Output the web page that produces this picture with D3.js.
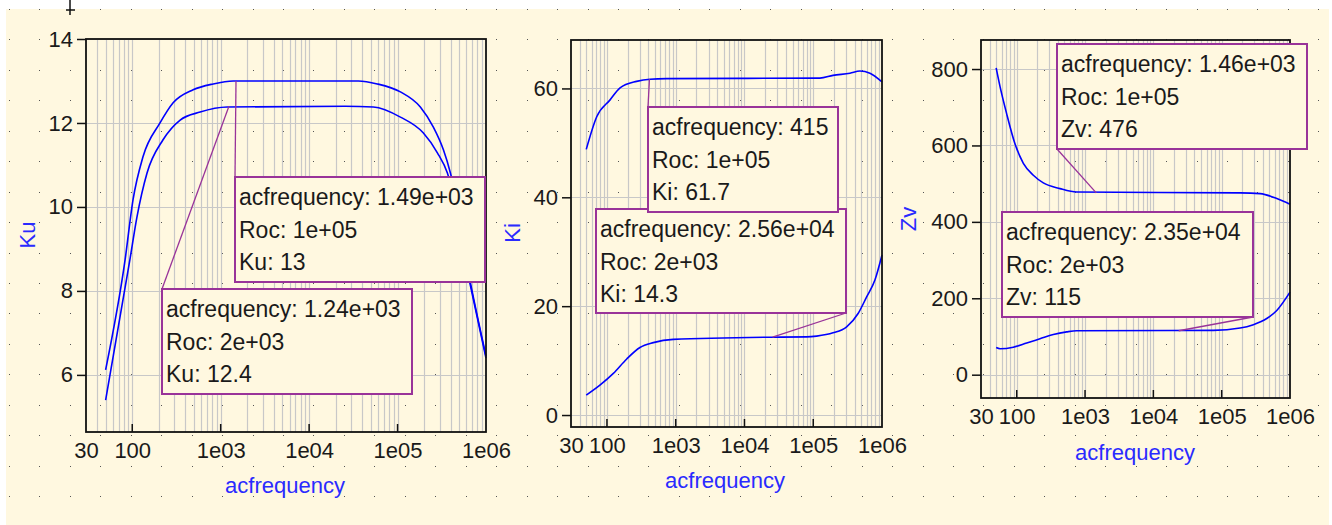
<!DOCTYPE html>
<html>
<head>
<meta charset="utf-8">
<script src="https://cdn.jsdelivr.net/npm/d3@7"></script>
<style>
    body { margin: 0; background: #fff; }
    svg { display: block; font-family: "Liberation Sans", Arial, sans-serif; }
</style>
</head>
<body>
<div id="visual-container"></div>
<script>
// Shared x axis (log frequency)
const freqTicks = [30, 100, 1e3, 1e4, 1e5, 1e6];
const freqTickLabels = ["30", "100", "1e03", "1e04", "1e05", "1e06"];

// Ku panel
const kuTicks = [6, 8, 10, 12, 14];
const kuFreqHi = [50, 83, 102, 132, 206, 290, 488, 822, 1384, 36000, 59000, 107700, 181000, 254000, 330000, 396000, 667000, 1e6];
const kuHi = [6.12, 8.74, 10.17, 11.19, 12.0, 12.48, 12.79, 12.93, 13.0, 13.0, 12.93, 12.74, 12.38, 11.9, 11.36, 10.81, 8.19, 6.45];
const kuFreqLo = [50, 94, 113, 147, 223, 348, 586, 1183, 25600, 53200, 107700, 196000, 282000, 366000, 667000, 1e6];
const kuLo = [5.40, 8.74, 9.76, 10.81, 11.6, 12.07, 12.26, 12.38, 12.4, 12.38, 12.14, 11.76, 11.29, 10.81, 8.12, 6.4];

// Ki panel
const kiTicks = [0, 20, 40, 60];
const kiFreqHi = [50, 71, 111, 155, 270, 423, 738, 125000, 194000, 342000, 478000, 668000, 1e6];
const kiHi = [48.8, 54.8, 57.9, 60.1, 61.3, 61.7, 61.8, 61.9, 62.4, 62.8, 63.2, 62.8, 61.2];
const kiFreqLo = [50, 79, 124, 194, 302, 472, 922, 25600, 80000, 112000, 194000, 306000, 452000, 598000, 789000, 1e6];
const kiLo = [3.67, 5.5, 7.65, 10.3, 12.4, 13.3, 13.9, 14.3, 14.35, 14.5, 15.1, 16.2, 18.7, 21.7, 24.8, 29.4];

// Zv panel
const zvTicks = [0, 200, 400, 600, 800];
const zvFreqHi = [50, 57, 71, 94, 125, 175, 245, 430, 755, 186000, 365000, 640000, 1e6];
const zvHi = [803, 754, 684, 605, 553, 522, 502, 487, 478, 476, 474, 461, 446];
const zvFreqLo = [50, 57, 89, 140, 219, 343, 539, 755, 75500, 186000, 291000, 457000, 640000, 1e6];
const zvLo = [71, 68, 72, 83, 94, 105, 112, 115, 116, 122, 131, 147, 168, 216];

// Marker annotations: frequency, Roc, value
const kuNotes = [
    { freq: 1.49e3, freqText: "1.49e+03", roc: "1e+05", value: 13, valueText: "13" },
    { freq: 1.24e3, freqText: "1.24e+03", roc: "2e+03", value: 12.4, valueText: "12.4" }
];
const kiNotes = [
    { freq: 2.56e4, freqText: "2.56e+04", roc: "2e+03", value: 14.3, valueText: "14.3" },
    { freq: 415, freqText: "415", roc: "1e+05", value: 61.7, valueText: "61.7" }
];
const zvNotes = [
    { freq: 1.46e3, freqText: "1.46e+03", roc: "1e+05", value: 476, valueText: "476" },
    { freq: 2.35e4, freqText: "2.35e+04", roc: "2e+03", value: 115, valueText: "115" }
];

const width = 1332;
const height = 525;
const bg = "#fff8e0";
const purple = "#993399";

const svg = d3.select("#visual-container")
    .append("svg")
    .attr("width", width)
    .attr("height", height);

// Cream page with dotted grid
svg.append("rect")
    .attr("x", 6).attr("y", 9)
    .attr("width", 1323).attr("height", height - 9)
    .attr("fill", bg);

const dotPitch = 30.45;
const dots = svg.append("g");
for (let gx = 9; gx < 1329; gx += dotPitch) {
    for (let gy = 9; gy < height; gy += dotPitch) {
        dots.append("rect")
            .attr("x", Math.round(gx)).attr("y", Math.round(gy))
            .attr("width", 1).attr("height", 1)
            .attr("fill", "#555");
    }
}

// small cross at the top
svg.append("path")
    .attr("d", "M70,0V15M66,10H75")
    .attr("stroke", "#111").attr("stroke-width", 1.5);

const panels = [
    {
        name: "Ku", ticks: kuTicks, yDomain: [4.64, 14],
        box: { x0: 86, x1: 486, y0: 39, y1: 432 },
        yLabel: [27, 235], xLabel: [285, 485],
        series: [[kuFreqHi, kuHi], [kuFreqLo, kuLo]],
        notes: kuNotes,
        boxes: [
            { x: 235, y: 177, w: 250, h: 105, corner: "tl" },
            { x: 162, y: 289, w: 250, h: 105, corner: "tl" }
        ]
    },
    {
        name: "Ki", ticks: kiTicks, yDomain: [-2.2, 68.9],
        box: { x0: 571, x1: 882, y0: 40, y1: 427 },
        yLabel: [512, 233], xLabel: [725, 480],
        series: [[kiFreqHi, kiHi], [kiFreqLo, kiLo]],
        notes: kiNotes,
        boxes: [
            { x: 596, y: 209, w: 250, h: 104, corner: "br" },
            { x: 648, y: 107, w: 190, h: 105, corner: "tl" }
        ]
    },
    {
        name: "Zv", ticks: zvTicks, yDomain: [-61, 876],
        box: { x0: 981, x1: 1290, y0: 40, y1: 398 },
        yLabel: [908, 219], xLabel: [1135, 452],
        series: [[zvFreqHi, zvHi], [zvFreqLo, zvLo]],
        notes: zvNotes,
        boxes: [
            { x: 1057, y: 44, w: 250, h: 105, corner: "bl" },
            { x: 1002, y: 212, w: 251, h: 105, corner: "br" }
        ]
    }
];

panels.forEach(drawPanel);

function drawPanel(p) {
    const b = p.box;
    const x = d3.scaleLog().domain([30, 1e6]).range([b.x0, b.x1]);
    const y = d3.scaleLinear().domain(p.yDomain).range([b.y1, b.y0]);
    const g = svg.append("g");

    // grid: every 1..9 x decade vertically, major ticks horizontally
    const minor = [];
    for (let dec = 10; dec <= 1e5; dec *= 10) {
        for (let m = 1; m <= 9; m++) {
            const v = dec * m;
            if (v > 30 && v < 1e6) minor.push(v);
        }
    }
    g.selectAll(".vgrid").data(minor).enter().append("line")
        .attr("x1", d => Math.round(x(d)) + 0.5).attr("x2", d => Math.round(x(d)) + 0.5)
        .attr("y1", b.y0).attr("y2", b.y1)
        .attr("stroke", "#c8c8c8").attr("stroke-width", 1.2);
    g.selectAll(".hgrid").data(p.ticks).enter().append("line")
        .attr("x1", b.x0).attr("x2", b.x1)
        .attr("y1", d => Math.round(y(d)) + 0.5).attr("y2", d => Math.round(y(d)) + 0.5)
        .attr("stroke", "#c8c8c8").attr("stroke-width", 1.2);

    // curves
    const line = d3.line()
        .x(d => x(d[0]))
        .y(d => y(d[1]))
        .curve(d3.curveMonotoneX);
    p.series.forEach(s => {
        const pts = s[0].map((f, i) => [f, s[1][i]]);
        g.append("path")
            .datum(pts)
            .attr("d", line)
            .attr("fill", "none")
            .attr("stroke", "#0000ff")
            .attr("stroke-width", 1.6);
    });

    // frame
    g.append("rect")
        .attr("x", b.x0).attr("y", b.y0)
        .attr("width", b.x1 - b.x0).attr("height", b.y1 - b.y0)
        .attr("fill", "none").attr("stroke", "#111").attr("stroke-width", 1.8);

    // y axis ticks and labels
    const yAxis = d3.axisLeft(y).tickValues(p.ticks).tickSize(9).tickPadding(4);
    const ya = g.append("g").attr("transform", `translate(${b.x0},0)`).call(yAxis);
    ya.select(".domain").remove();
    ya.selectAll("line").attr("stroke", "#111").attr("stroke-width", 1.5);
    ya.selectAll("text").attr("font-size", 22).attr("fill", "#1a1a1a")
        .attr("font-family", "Liberation Sans, Arial, sans-serif");

    // x axis: ticks point inward
    const xAxis = d3.axisBottom(x).tickValues(freqTicks)
        .tickFormat((d, i) => freqTickLabels[i]).tickSize(0).tickPadding(10);
    const xa = g.append("g").attr("transform", `translate(0,${b.y1})`).call(xAxis);
    xa.select(".domain").remove();
    xa.selectAll("text").attr("font-size", 22).attr("fill", "#1a1a1a")
        .attr("font-family", "Liberation Sans, Arial, sans-serif");
    g.selectAll(".xtick").data(freqTicks.slice(1, -1)).enter().append("line")
        .attr("x1", d => x(d)).attr("x2", d => x(d))
        .attr("y1", b.y1).attr("y2", b.y1 - 8)
        .attr("stroke", "#111").attr("stroke-width", 1.5);

    // axis titles
    g.append("text")
        .attr("transform", `translate(${p.yLabel[0]},${p.yLabel[1]}) rotate(-90)`)
        .attr("text-anchor", "middle").attr("dy", "0.35em")
        .attr("font-size", 22).attr("fill", "#2a2aff")
        .text(p.name);
    g.append("text")
        .attr("x", p.xLabel[0]).attr("y", p.xLabel[1])
        .attr("text-anchor", "middle").attr("dy", "0.35em")
        .attr("font-size", 22).attr("fill", "#2a2aff")
        .text("acfrequency");

    // marker boxes
    p.notes.forEach((n, i) => {
        const bx = p.boxes[i];
        const px = x(n.freq), py = y(n.value);
        let cx = bx.x, cy = bx.y;
        if (bx.corner === "br") { cx = bx.x + bx.w; cy = bx.y + bx.h; }
        if (bx.corner === "bl") { cy = bx.y + bx.h; }
        g.append("line")
            .attr("x1", px).attr("y1", py).attr("x2", cx).attr("y2", cy)
            .attr("stroke", purple).attr("stroke-width", 1.3);
        g.append("rect")
            .attr("x", bx.x).attr("y", bx.y).attr("width", bx.w).attr("height", bx.h)
            .attr("fill", bg).attr("stroke", purple).attr("stroke-width", 2);
        const lines = ["acfrequency: " + n.freqText, "Roc: " + n.roc, p.name + ": " + n.valueText];
        lines.forEach((t, k) => {
            g.append("text")
                .attr("x", bx.x + 4)
                .attr("y", bx.y + 20 + k * 32.5)
                .attr("dy", "0.35em")
                .attr("font-size", 23).attr("fill", "#1a1a1a")
                .text(t);
        });
    });
}
</script>
</body>
</html>
